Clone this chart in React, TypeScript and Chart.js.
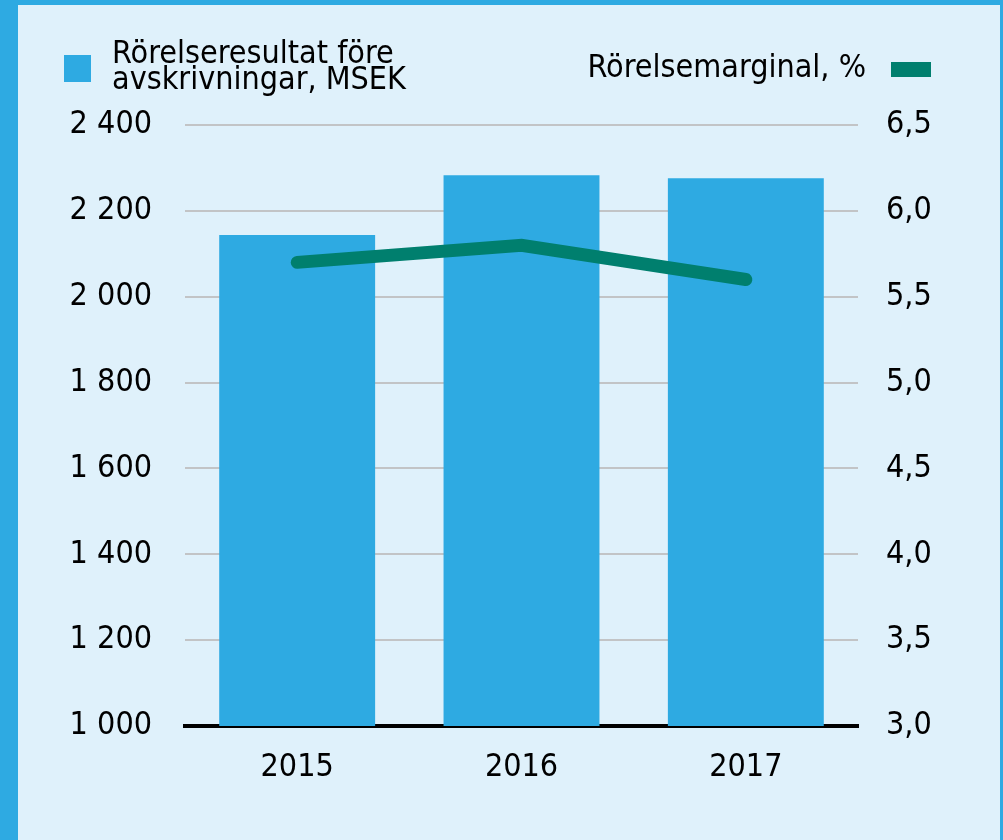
import React, { useEffect, useRef } from 'react';
import { Chart, registerables } from 'chart.js';

Chart.register(...registerables);

const YEARS = ['2015', '2016', '2017'];
const EBITDA_MSEK = [2144, 2283, 2276];
const MARGIN_PCT = [5.7, 5.8, 5.6];
const LEFT_MIN = 1000;
const LEFT_MAX = 2400;
const LEFT_STEP = 200;
const RIGHT_MIN = 3.0;
const RIGHT_MAX = 6.5;
const RIGHT_STEP = 0.5;
const BAR_LABEL_LINES = ['Rörelseresultat före', 'avskrivningar, MSEK'];
const LINE_LABEL = 'Rörelsemarginal, %';

const BAR_COLOR = '#2eaae2';
const LINE_COLOR = '#007f6e';
const BG_COLOR = '#dff1fb';
const FONT = '"DejaVu Sans Condensed", "DejaVu Sans", sans-serif';
const FONT_SIZE = 32;

const fmtThousands = (v: number) => String(Math.round(v)).replace(/\B(?=(\d{3})+(?!\d))/g, ' ');
const fmtPct = (v: number) => v.toFixed(1).replace('.', ',');

const legendPlugin = {
  id: 'customLegend',
  afterDraw(chart: any) {
    const ctx = chart.ctx;
    ctx.save();
    ctx.font = `${FONT_SIZE}px ${FONT}`;
    ctx.fillStyle = '#000';
    ctx.textBaseline = 'alphabetic';
    // left item
    ctx.fillStyle = BAR_COLOR;
    ctx.fillRect(64, 55, 27, 27);
    ctx.fillStyle = '#000';
    ctx.textAlign = 'left';
    ctx.fillText(BAR_LABEL_LINES[0], 112, 63);
    ctx.fillText(BAR_LABEL_LINES[1], 112, 89);
    // right item
    ctx.textAlign = 'right';
    ctx.fillText(LINE_LABEL, 866, 77);
    ctx.fillStyle = LINE_COLOR;
    ctx.fillRect(891, 62, 40, 15);
    ctx.restore();
  },
};

function ChartView() {
  const ref = useRef<HTMLCanvasElement | null>(null);
  useEffect(() => {
    if (!ref.current) return;
    const chart = new Chart(ref.current, {
      type: 'bar',
      data: {
        labels: YEARS,
        datasets: [
          {
            type: 'line',
            label: LINE_LABEL,
            data: MARGIN_PCT,
            yAxisID: 'y1',
            borderColor: LINE_COLOR,
            backgroundColor: LINE_COLOR,
            borderWidth: 13,
            borderCapStyle: 'round',
            borderJoinStyle: 'miter',
            pointRadius: 0,
            tension: 0,
            order: 0,
          } as any,
          {
            type: 'bar',
            label: BAR_LABEL_LINES.join(' '),
            data: EBITDA_MSEK,
            yAxisID: 'y',
            backgroundColor: BAR_COLOR,
            borderWidth: 0,
            categoryPercentage: 1,
            barPercentage: 0.695,
            order: 1,
          } as any,
        ],
      },
      options: {
        responsive: false,
        animation: false,
        devicePixelRatio: 1,
        layout: { padding: { top: 125, left: 0, right: 0, bottom: 0 } },
        plugins: {
          legend: { display: false },
          tooltip: { enabled: false },
        },
        scales: {
          x: {
            z: 1,
            grid: { display: false },
            border: { display: true, color: '#000', width: 4 },
            ticks: {
              color: '#000',
              font: { family: FONT, size: FONT_SIZE },
              padding: 14,
            },
            afterFit: (s: any) => { s.height = 114; },
          },
          y: {
            position: 'left',
            min: LEFT_MIN,
            max: LEFT_MAX,
            grid: {
              drawTicks: false,
              color: (c: any) => (c.tick && c.tick.value === LEFT_MIN ? 'rgba(0,0,0,0)' : '#c2c4c6'),
              lineWidth: 2,
            },
            border: { display: false },
            ticks: {
              stepSize: LEFT_STEP,
              color: '#000',
              font: { family: FONT, size: FONT_SIZE },
              padding: 33,
              callback: (v: any) => fmtThousands(Number(v)),
            },
            afterFit: (s: any) => { s.width = 185; },
          },
          y1: {
            position: 'right',
            min: RIGHT_MIN,
            max: RIGHT_MAX,
            grid: { display: false, drawTicks: false },
            border: { display: false },
            ticks: {
              stepSize: RIGHT_STEP,
              color: '#000',
              font: { family: FONT, size: FONT_SIZE },
              padding: 28,
              callback: (v: any) => fmtPct(Number(v)),
            },
            afterFit: (s: any) => { s.width = 145; },
          },
        },
      } as any,
      plugins: [legendPlugin],
    });
    return () => chart.destroy();
  }, []);
  return <canvas ref={ref} width={1003} height={840} style={{ display: 'block', width: 1003, height: 840 }} />;
}

export default function App() {
  return (
    <div style={{ position: 'fixed', left: 0, top: 0, width: 1003, height: 840, background: BAR_COLOR, overflow: 'hidden' }}>
      <div style={{ position: 'absolute', left: 18, top: 5, width: 982, height: 835, background: BG_COLOR }} />
      <div style={{ position: 'absolute', left: 0, top: 0 }}>
        <ChartView />
      </div>
    </div>
  );
}
